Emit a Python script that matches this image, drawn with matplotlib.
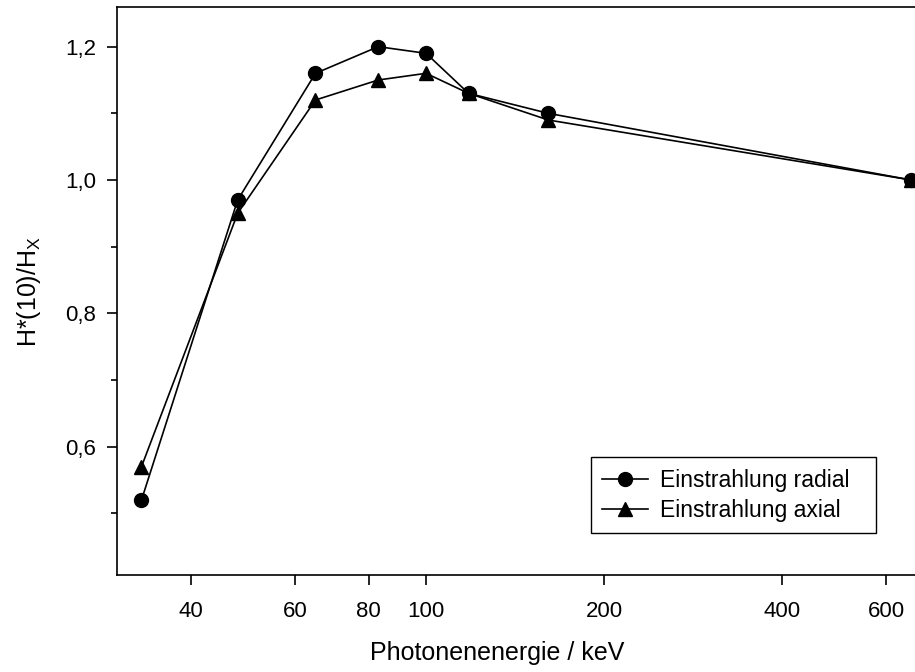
# H*(10)/Hx ueber Photonenenergie, radial vs. axial
import matplotlib.pyplot as plt
from matplotlib.ticker import FixedLocator, FuncFormatter, NullLocator

plt.rcParams['font.family'] = ['Liberation Sans', 'DejaVu Sans']

energie = [33, 48, 65, 83, 100, 118, 161, 662]
radial = [0.52, 0.97, 1.16, 1.20, 1.19, 1.13, 1.10, 1.00]
axial = [0.57, 0.95, 1.12, 1.15, 1.16, 1.13, 1.09, 1.00]

x_ticks = [40, 60, 80, 100, 200, 400, 600]
y_ticks = [0.6, 0.8, 1.0, 1.2]
y_minor = [0.5, 0.7, 0.9, 1.1]

fig = plt.figure(figsize=(9.15, 6.72), dpi=100)
ax = fig.add_axes([0.1279, 0.1443, 0.8836, 0.8448])

ax.plot(energie, radial, color='black', lw=1.2, marker='o', ms=10,
        label='Einstrahlung radial', clip_on=False, zorder=3)
ax.plot(energie, axial, color='black', lw=1.2, marker='^', ms=10,
        label='Einstrahlung axial', clip_on=False, zorder=3)

ax.set_xscale('log')
ax.set_xlim(30, 700)
ax.set_ylim(0.4075, 1.259)

ax.xaxis.set_major_locator(FixedLocator(x_ticks))
ax.xaxis.set_minor_locator(NullLocator())
ax.xaxis.set_major_formatter(FuncFormatter(lambda v, p: f'{v:g}'))
ax.yaxis.set_major_locator(FixedLocator(y_ticks))
ax.yaxis.set_minor_locator(FixedLocator(y_minor))
ax.yaxis.set_major_formatter(FuncFormatter(lambda v, p: f'{v:.1f}'.replace('.', ',')))

ax.tick_params(which='major', direction='out', length=7, width=1.2, labelsize=16, pad=8)
ax.tick_params(axis='x', which='major', pad=12)
ax.tick_params(which='minor', direction='out', length=4, width=1.2)
ax.tick_params(axis='x', top=False)
ax.tick_params(axis='y', right=False)
for s in ax.spines.values():
    s.set_linewidth(1.2)

ax.set_xlabel('Photonenenergie / keV', fontsize=18)
ax.xaxis.set_label_coords(0.47, -0.117)
ax.set_ylabel(r'H*(10)/H$_\mathregular{X}$', fontsize=18, labelpad=16)

leg = ax.legend(loc='lower left', bbox_to_anchor=(0.586, 0.074, 0.353, 0.125),
                mode='expand', borderaxespad=0,
                fontsize=16.5, fancybox=False, edgecolor='black', framealpha=1,
                handlelength=2.0, handletextpad=0.5, borderpad=0.5,
                labelspacing=0.3)
leg.get_frame().set_linewidth(1.0)

fig.savefig('out.png', dpi=100)
